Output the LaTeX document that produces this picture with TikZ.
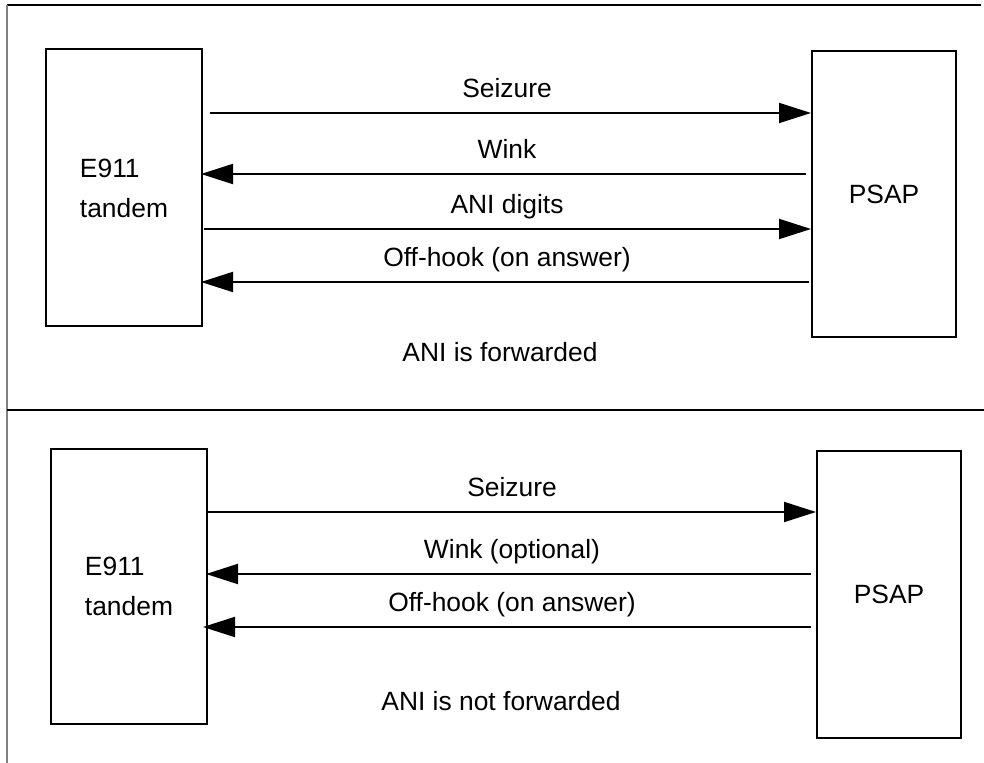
\documentclass[tikz,border=0pt]{standalone}
\usepackage{fontspec}
\setmainfont{Liberation Sans}
\usetikzlibrary{arrows.meta, positioning}

\tikzset{
  unit/.style={draw, line width=1pt, inner sep=0pt},
  sig/.style={line width=1pt, -{Triangle[length=16pt, width=10pt]}},
  lbl/.style={midway, anchor=base, yshift=7.75pt}
}

\begin{document}
\begin{tikzpicture}[x=0.5pt, y=-0.5pt, every node/.style={font=\fontsize{13.2}{20}\selectfont}]
\useasboundingbox (0,0) rectangle (984,763);
% Frame
\draw[line width=1pt] (7,5) -- (981,5);
\draw[line width=0.75pt, gray] (7,5) -- (7,763);
\draw[line width=1pt] (7,410) -- (984,410);
% Top panel: ANI forwarded
\node[unit, minimum width=78pt, minimum height=138.5pt, align=left] (tandA) at (124,188) {E911\\tandem};
\node[unit, minimum width=72pt, minimum height=143pt] (psapA) at (884,194) {PSAP};
\draw[sig, shorten <=3.5pt] (tandA.east |- 0,113) -- (psapA.west |- 0,113) node[lbl] {Seizure};
\draw[sig, shorten <=2.5pt, shorten >=-1pt] (psapA.west |- 0,174) -- (tandA.east |- 0,174) node[lbl] {Wink};
\draw[sig, shorten <=0.5pt] (tandA.east |- 0,229) -- (psapA.west |- 0,229) node[lbl] {ANI digits};
\draw[sig, shorten <=1pt, shorten >=-1pt] (psapA.west |- 0,282) -- (tandA.east |- 0,282) node[lbl] {Off-hook (on answer)};
\node[anchor=base] (capA) at (500,362) {ANI is forwarded};
% Bottom panel: ANI not forwarded
\node[unit, minimum width=78pt, minimum height=137.5pt, align=left] (tandB) at (129,586.5) {E911\\tandem};
\node[unit, minimum width=72pt, minimum height=143.5pt] (psapB) at (889,594.5) {PSAP};
\draw[sig] (tandB.east |- 0,512) -- (psapB.west |- 0,512) node[lbl] {Seizure};
\draw[sig, shorten <=2.5pt, shorten >=-1pt] (psapB.west |- 0,574) -- (tandB.east |- 0,574) node[lbl] {Wink (optional)};
\draw[sig, shorten <=2.5pt, shorten >=-2.5pt] (psapB.west |- 0,627) -- (tandB.east |- 0,627) node[lbl] {Off-hook (on answer)};
\node[anchor=base] (capB) at (501,710) {ANI is not forwarded};
\end{tikzpicture}
\end{document}
